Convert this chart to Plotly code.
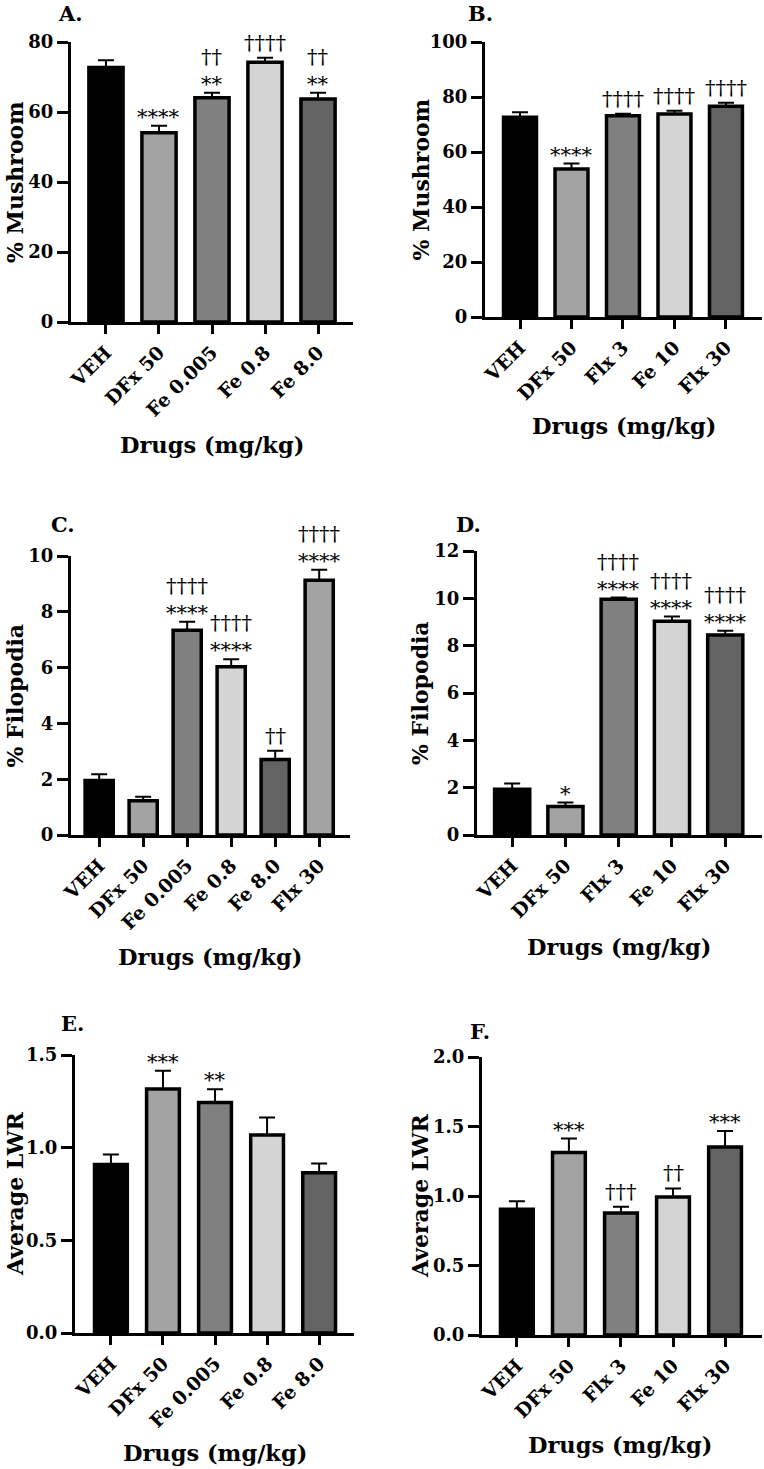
import plotly.graph_objects as go

# ---------------- data ----------------
cats_A = ["VEH", "DFx 50", "Fe 0.005", "Fe 0.8", "Fe 8.0"]
mush_A = [72.7, 54.1, 64.1, 74.2, 63.7]
mush_A_err = [2.1, 2.0, 1.4, 1.3, 1.8]
star_A = ["", "****", "**", "", "**"]
dag_A = ["", "", "††", "††††", "††"]

cats_B = ["VEH", "DFx 50", "Flx 3", "Fe 10", "Flx 30"]
mush_B = [72.6, 53.8, 73.2, 73.8, 76.6]
mush_B_err = [1.9, 2.0, 0.7, 1.2, 1.3]
star_B = ["", "****", "", "", ""]
dag_B = ["", "", "††††", "††††", "††††"]

cats_C = ["VEH", "DFx 50", "Fe 0.005", "Fe 0.8", "Fe 8.0", "Flx 30"]
filo_C = [1.95, 1.23, 7.34, 6.03, 2.71, 9.13]
filo_C_err = [0.23, 0.14, 0.30, 0.27, 0.31, 0.38]
star_C = ["", "", "****", "****", "", "****"]
dag_C = ["", "", "††††", "††††", "††", "††††"]

cats_D = ["VEH", "DFx 50", "Flx 3", "Fe 10", "Flx 30"]
filo_D = [1.93, 1.20, 9.96, 9.03, 8.45]
filo_D_err = [0.25, 0.17, 0.07, 0.20, 0.18]
star_D = ["", "*", "****", "****", "****"]
dag_D = ["", "", "††††", "††††", "††††"]

cats_E = ["VEH", "DFx 50", "Fe 0.005", "Fe 0.8", "Fe 8.0"]
lwr_E = [0.909, 1.316, 1.244, 1.068, 0.864]
lwr_E_err = [0.054, 0.099, 0.071, 0.095, 0.051]
star_E = ["", "***", "**", "", ""]
dag_E = ["", "", "", "", ""]

cats_F = ["VEH", "DFx 50", "Flx 3", "Fe 10", "Flx 30"]
lwr_F = [0.905, 1.313, 0.877, 0.992, 1.353]
lwr_F_err = [0.058, 0.100, 0.045, 0.062, 0.115]
star_F = ["", "***", "", "", "***"]
dag_F = ["", "", "†††", "††", ""]

# ---------------- styles ----------------
W, H = 764, 1469
FONT = "DejaVu Serif"
col = {"VEH": "#000000", "DFx 50": "#a3a3a3", "Fe 0.005": "#808080",
       "Fe 0.8": "#d4d4d4", "Fe 8.0": "#636363", "Flx 3": "#808080",
       "Fe 10": "#d4d4d4", "Flx 30": "#636363"}
colors_C = ["#000000", "#a3a3a3", "#808080", "#d4d4d4", "#636363", "#a3a3a3"]

panels = [
    dict(lab="A.", cats=cats_A, v=mush_A, e=mush_A_err, s=star_A, d=dag_A,
         colors=[col[c] for c in cats_A], xd=(71, 353), yd=(42, 322), rng=(0, 80), dt=20, fmt="d",
         yt="% Mushroom", ytx=0, xtp=(212, 445), lp=(70, 13), xr=(-0.66, 4.66), bw=0.645),
    dict(lab="B.", cats=cats_B, v=mush_B, e=mush_B_err, s=star_B, d=dag_B,
         colors=[col[c] for c in cats_B], xd=(485, 762), yd=(42, 317), rng=(0, 100), dt=20, fmt="d",
         yt="% Mushroom", ytx=405, xtp=(624, 426), lp=(480, 13), xr=(-0.68, 4.70), bw=0.64),
    dict(lab="C.", cats=cats_C, v=filo_C, e=filo_C_err, s=star_C, d=dag_C,
         colors=colors_C, xd=(71, 350), yd=(556, 835), rng=(0, 10), dt=2, fmt="d",
         yt="% Filopodia", ytx=0, xtp=(210, 957), lp=(63, 524), xr=(-0.64, 5.70), bw=0.64),
    dict(lab="D.", cats=cats_D, v=filo_D, e=filo_D_err, s=star_D, d=dag_D,
         colors=[col[c] for c in cats_D], xd=(477, 762), yd=(551, 835), rng=(0, 12), dt=2, fmt="d",
         yt="% Filopodia", ytx=405, xtp=(619, 947), lp=(468, 524), xr=(-0.66, 4.69), bw=0.66),
    dict(lab="E.", cats=cats_E, v=lwr_E, e=lwr_E_err, s=star_E, d=dag_E,
         colors=[col[c] for c in cats_E], xd=(75, 354), yd=(1055, 1333), rng=(0, 1.5), dt=0.5, fmt=".1f",
         yt="Average LWR", ytx=0, xtp=(215, 1453), lp=(72, 1024), xr=(-0.69, 4.67), bw=0.63),
    dict(lab="F.", cats=cats_F, v=lwr_F, e=lwr_F_err, s=star_F, d=dag_F,
         colors=[col[c] for c in cats_F], xd=(482, 762), yd=(1057, 1335), rng=(0, 2.0), dt=0.5, fmt=".1f",
         yt="Average LWR", ytx=405, xtp=(620, 1445), lp=(480, 1031), xr=(-0.67, 4.71), bw=0.63),
]

fig = go.Figure()
annotations = []
layout = {}

for i, p in enumerate(panels, start=1):
    xa = "x" if i == 1 else f"x{i}"
    ya = "y" if i == 1 else f"y{i}"
    fig.add_trace(go.Bar(
        x=p["cats"], y=p["v"], width=p["bw"],
        marker=dict(color=p["colors"], line=dict(color="black", width=3.5)),
        error_y=dict(type="data", symmetric=False, array=p["e"],
                     arrayminus=[0] * len(p["e"]), color="black", thickness=2, width=8),
        xaxis=xa, yaxis=ya, showlegend=False, cliponaxis=False,
    ))
    xkey = "xaxis" if i == 1 else f"xaxis{i}"
    ykey = "yaxis" if i == 1 else f"yaxis{i}"
    layout[xkey] = dict(
        domain=[p["xd"][0] / W, p["xd"][1] / W], anchor=ya, automargin=False,
        range=list(p["xr"]), type="category",
        showline=True, linecolor="black", linewidth=3,
        ticks="outside", ticklen=9, tickwidth=3, tickcolor="black",
        tickangle=-45, tickfont=dict(family=FONT, size=19, color="black", weight="bold"),
        showgrid=False, zeroline=False, fixedrange=True,
    )
    layout[ykey] = dict(
        domain=[1 - p["yd"][1] / H, 1 - p["yd"][0] / H], anchor=xa, automargin=False,
        range=list(p["rng"]), dtick=p["dt"], tick0=0, tickformat=p["fmt"],
        showline=True, linecolor="black", linewidth=3,
        ticks="outside", ticklen=11, tickwidth=3, tickcolor="black",
        tickfont=dict(family=FONT, size=18, color="black", weight="bold"),
        showgrid=False, zeroline=False, fixedrange=True,
    )
    for c, v, e, s, d in zip(p["cats"], p["v"], p["e"], p["s"], p["d"]):
        lines = [t for t in (d, s) if t]
        if not lines:
            continue
        annotations.append(dict(
            x=c, y=v + e, xref=xa, yref=ya, text="<br>".join(lines),
            showarrow=False, yanchor="bottom", xanchor="center",
            yshift=-5 if s else 1,
            font=dict(family=FONT, size=21, color="black"),
        ))
    annotations.append(dict(
        x=p["lp"][0] / W, y=1 - p["lp"][1] / H, xref="paper", yref="paper",
        text=p["lab"], showarrow=False, xanchor="center", yanchor="middle",
        font=dict(family=FONT, size=21, color="black", weight="bold"),
    ))
    ymid = (p["yd"][0] + p["yd"][1]) / 2
    annotations.append(dict(
        x=p["ytx"] / W, y=1 - ymid / H, xref="paper", yref="paper",
        text=p["yt"], textangle=-90, showarrow=False,
        xanchor="left", yanchor="middle",
        font=dict(family=FONT, size=22, color="black", weight="bold"),
    ))
    annotations.append(dict(
        x=p["xtp"][0] / W, y=1 - p["xtp"][1] / H, xref="paper", yref="paper",
        text="Drugs (mg/kg)", showarrow=False, xanchor="center", yanchor="middle",
        font=dict(family=FONT, size=22.5, color="black", weight="bold"),
    ))

fig.update_layout(
    width=W, height=H, margin=dict(l=0, r=0, t=0, b=0, autoexpand=False),
    paper_bgcolor="white", plot_bgcolor="white",
    annotations=annotations, **layout,
)

fig.write_html(
    "out.html",
    config={"displayModeBar": False},
    post_script="document.body.style.margin='0';document.body.style.overflow='hidden';",
)
